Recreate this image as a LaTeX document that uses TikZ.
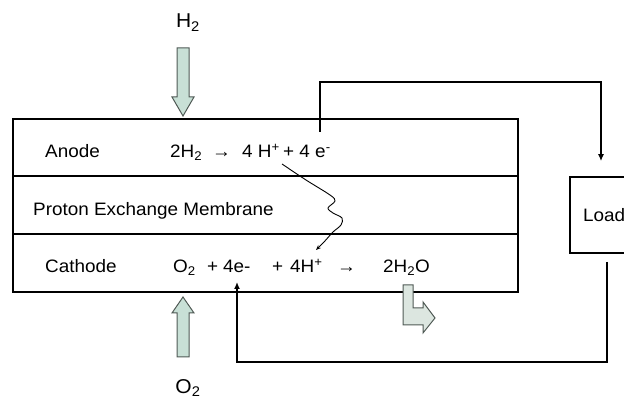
\documentclass[tikz,border=0pt]{standalone}
\usepackage{fontspec}
\setmainfont{Liberation Sans}[FakeStretch=1.05]
\usetikzlibrary{arrows.meta,calc,positioning}
\definecolor{gasfill}{HTML}{C8E0D6}
\definecolor{gasline}{HTML}{505A55}
\definecolor{waterfill}{HTML}{DCE6E0}
\tikzset{wire/.style={line width=1.6pt, line cap=rect}, tipwire/.style={line width=1.6pt, -{Latex[length=7pt,width=6pt]}}, proton/.style={line width=.9pt, -{Stealth[length=5pt,width=4pt]}}, gas/.style={fill=gasfill, draw=gasline, line width=1pt}, lab/.style={font=\fontsize{18}{20}\selectfont, inner sep=0pt, anchor=base west}, big/.style={font=\fontsize{20}{22}\selectfont, inner sep=0pt, anchor=base}}

\begin{document}
\begin{tikzpicture}[x=1pt,y=-1pt]
\useasboundingbox (0,0) rectangle (624,403);
% cell layers
\draw[wire] (13,119) rectangle (518,292); \draw[wire] (13,176)--(518,176); \draw[wire] (13,234)--(518,234);
\node[lab] (anode) at (45,158) {Anode}; \node[lab] (pem) at (33,216) {Proton Exchange Membrane}; \node[lab] (cathode) at (45,273) {Cathode};
% anode reaction
\node[lab] (a1) at (170,158) {2H\textsubscript{2}}; \node[lab] (a2) at (212,158) {→}; \node[lab] (a3) at (242,158) {4 H\textsuperscript{+}}; \node[lab] (a4) at (283,158) {+ 4 e\textsuperscript{-}};
% cathode reaction
\node[lab] (c1) at (173,273) {O\textsubscript{2}}; \node[lab] (c2) at (207,273) {+}; \node[lab] (c3) at (223,273) {4e-}; \node[lab] (c4) at (272,273) {+};
\node[lab] (c5) at (290,273) {4H\textsuperscript{+}}; \node[lab] (c6) at (337,273) {→}; \node[lab] (c7) at (383,273) {2H\textsubscript{2}O};
% gases
\node[big] (htwo) at (188,28) {H\textsubscript{2}}; \node[big] (otwo) at (188,393) {O\textsubscript{2}};
\draw[gas] (177,48)--(189,48)--(189,97)--(194,97)--(183,116)--(172,97)--(177,97)--cycle;
\draw[gas] (177,357)--(189,357)--(189,313)--(194,313)--(183,297)--(172,313)--(177,313)--cycle;
\draw[gas, fill=waterfill] (403,285)--(413,285)--(413,308)--(423,308)--(423,302)--(435,318)--(423,333)--(423,325)--(403,325)--cycle;
% proton path
\draw[proton] plot[smooth, tension=.55] coordinates {(282,164) (306,180) (330,195) (335,201) (328,208) (333,213) (342,218) (341,225) (333,232) (324,242) (316,250)};
% external circuit
\node[draw, line width=1.6pt, minimum width=74pt, minimum height=76pt, inner sep=0pt, text width=48pt, align=left, font=\fontsize{18}{20}\selectfont] (load) at (607,215) {Load};
\coordinate (eout) at (320,132); \coordinate (ein) at (237,282); \coordinate (loopb) at (237,362);
\draw[tipwire] (eout) -- (320,82) -| ([xshift=-6pt,yshift=15pt]load.north);
\draw[tipwire] ([yshift=-8pt]load.south) |- (loopb) -- (ein);
\end{tikzpicture}
\end{document}
